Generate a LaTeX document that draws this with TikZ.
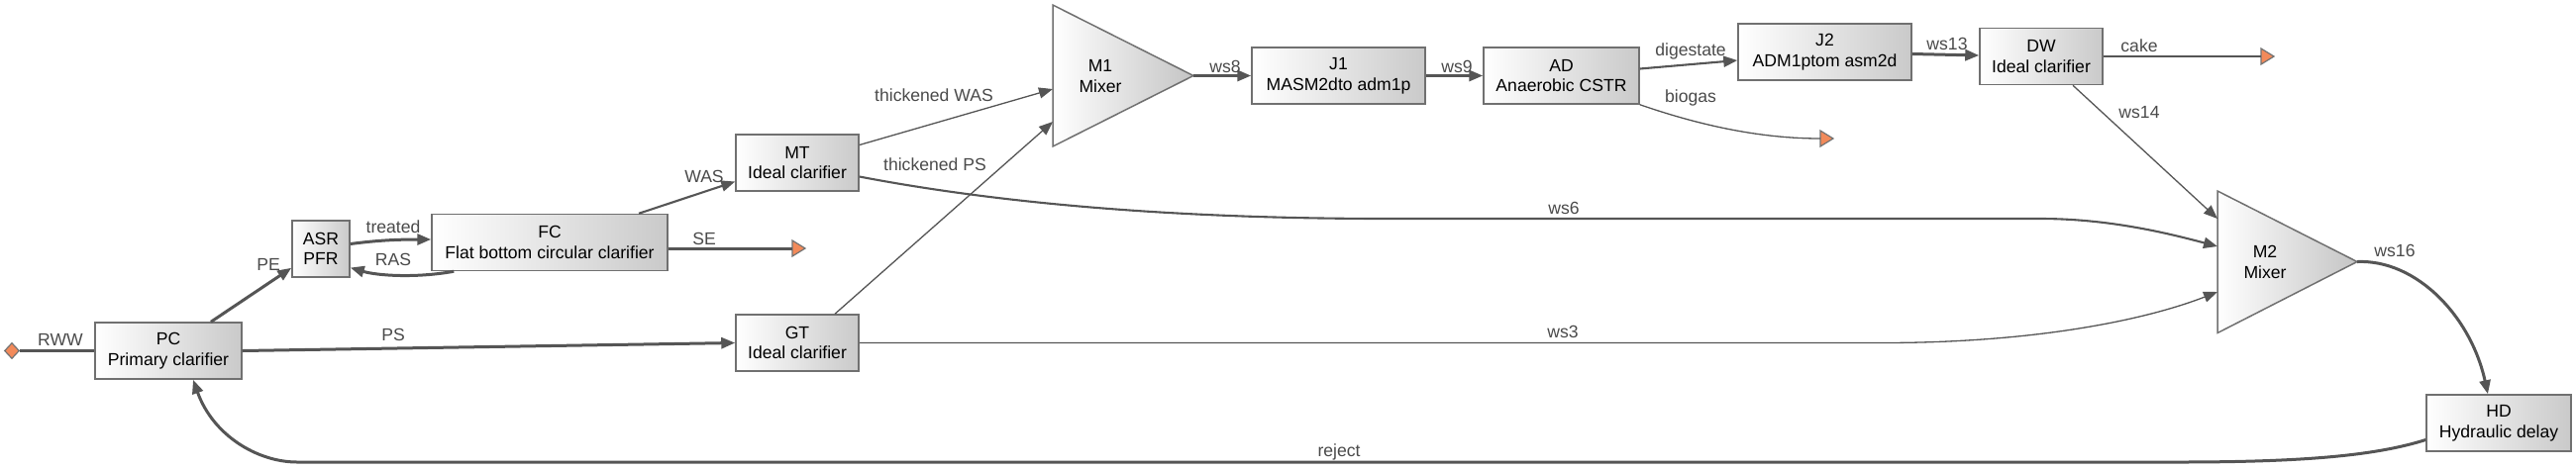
\documentclass[tikz,border=0pt]{standalone}
\usepackage{fontspec}
\setmainfont{Liberation Sans}
\usetikzlibrary{arrows.meta,calc,shapes.geometric}
\definecolor{edgec}{HTML}{555555}
\definecolor{boxline}{HTML}{707070}
\definecolor{termfill}{HTML}{F28A5A}
\definecolor{lblc}{HTML}{4A4A4A}
\begin{document}
\begin{tikzpicture}[x=0.5pt,y=-0.5pt,
  unit/.style={draw=boxline, line width=0.75pt, left color=white, right color=black!21,
    inner sep=0pt, align=center, font=\fontsize{8.8}{10.3}\selectfont, text=black,
    minimum height=28.5pt},
  mixtext/.style={inner sep=0pt, align=center, font=\fontsize{8.8}{10.3}\selectfont, text=black},
  mixst/.style={draw=boxline, line width=0.75pt, left color=white, right color=black!23},
  conn/.style={draw=edgec, -{Triangle[length=7pt,width=5.5pt]}},
  plain/.style={draw=edgec},
  thk/.style={line width=1.5pt},
  mid/.style={line width=1.05pt},
  thn/.style={line width=0.65pt},
  lbl/.style={text=lblc, font=\fontsize{8.8}{10}\selectfont, inner sep=0pt},
  termst/.style={fill=termfill, draw=black!55, line width=0.6pt},
]
\useasboundingbox (0,0) rectangle (2601,473);

% unit boxes
\node[unit, minimum width=74pt] (PC) at (170,354.5) {PC\\Primary clarifier};
\node[unit, minimum width=29pt] (ASR) at (324,251.5) {ASR\\PFR};
\node[unit, minimum width=119pt] (FC) at (555,245) {FC\\Flat bottom circular clarifier};
\node[unit, minimum width=62pt] (MT) at (805,164.5) {MT\\Ideal clarifier};
\node[unit, minimum width=62pt] (GT) at (805,346.5) {GT\\Ideal clarifier};
\node[unit, minimum width=87.5pt] (J1) at (1351.5,76.5) {J1\\MASM2dto adm1p};
\node[unit, minimum width=78.5pt] (AD) at (1576.5,76.5) {AD\\Anaerobic CSTR};
\node[unit, minimum width=87.5pt] (J2) at (1842.5,52.5) {J2\\ADM1ptom asm2d};
\node[unit, minimum width=62pt] (DW) at (2061,57) {DW\\Ideal clarifier};
\node[unit, minimum width=73pt] (HD) at (2523,427.5) {HD\\Hydraulic delay};

% mixers
\coordinate (M1top) at (1063,5);
\coordinate (M1out) at (1205,76.5);
\coordinate (M1bot) at (1063,148);
\path[mixst] (M1top) -- (M1out) -- (M1bot) -- cycle;
\node[mixtext] (M1) at (1111,77) {M1\\Mixer};
\coordinate (M1inA) at (1063,90);
\coordinate (M1inB) at (1063,123);

\coordinate (M2top) at (2239,193);
\coordinate (M2out) at (2380,264.5);
\coordinate (M2bot) at (2239,336.5);
\path[mixst] (M2top) -- (M2out) -- (M2bot) -- cycle;
\node[mixtext] (M2) at (2287,265) {M2\\Mixer};
\coordinate (M2inA) at (2239,221);
\coordinate (M2inB) at (2239,249);
\coordinate (M2inC) at (2239,295);

% terminals
\node[termst, diamond, minimum width=7.5pt, minimum height=8pt, inner sep=0pt] (RWW) at (12,354.5) {};
\coordinate (SEend) at (800,251);
\path[termst] (SEend) -- ++(0,-8) -- ++(13,8) -- ++(-13,8) -- cycle;
\coordinate (BIOend) at (1838,140);
\path[termst] (BIOend) -- ++(0,-8) -- ++(13,8) -- ++(-13,8) -- cycle;
\coordinate (CAKEend) at (2283,57);
\path[termst] (CAKEend) -- ++(0,-8) -- ++(13,8) -- ++(-13,8) -- cycle;

% connectors
\draw[plain,thk] (RWW.east) -- (PC.west) node[lbl] at (61,343) {RWW};
\draw[conn,thk] ($(PC.north)+(43,0)$) -- ($(ASR.south west)+(0,-10)$) node[lbl] at (271,267) {PE};
\draw[conn,thk] ($(ASR.east)+(0,-5)$) .. controls +(30,-4) and +(-30,0) .. ($(FC.west)+(0,-3)$) node[lbl] at (397,229) {treated};
\draw[conn,thk] ($(FC.south west)+(23,0)$) .. controls +(-39,7) and +(27,8) .. ($(ASR.east)+(0,19)$) node[lbl] at (397,262) {RAS};
\draw[plain,thk] ($(FC.east)+(0,6)$) -- (SEend) node[lbl] at (711,241) {SE};
\draw[conn,mid] ($(FC.north)+(90,0)$) -- ($(MT.west)+(0,19)$) node[lbl] at (711,178) {WAS};
\draw[conn,thk] (PC.east) -- (GT.west) node[lbl] at (397,338) {PS};
\draw[conn,thn] ($(MT.east)+(0,-18)$) -- (M1inA) node[lbl] at (943,96) {thickened WAS};
\draw[conn,thn] ($(GT.north)+(38,0)$) -- (M1inB) node[lbl] at (944,166) {thickened PS};
\draw[conn,mid] ($(MT.east)+(0,14)$) .. controls (980,200) and (1150,221) .. (1400,221) -- (2060,221) .. controls (2130,221) and (2190,236) .. (M2inB) node[lbl] at (1579,210) {ws6};
\draw[conn,thn] (GT.east) -- (1900,346.5) .. controls (2060,346.5) and (2170,322) .. (M2inC) node[lbl] at (1578,335) {ws3};
\draw[conn,thk] (M1out) -- (J1.west) node[lbl] at (1237,67) {ws8};
\draw[conn,thk] (J1.east) -- (AD.west) node[lbl] at (1471,67) {ws9};
\draw[conn,mid] ($(AD.east)+(0,-7)$) -- ($(J2.west)+(0,8.5)$) node[lbl] at (1707,52) {digestate};
\draw[plain,thn] (AD.south east) .. controls (1720,128) and (1780,140) .. (BIOend) node[lbl] at (1707,99) {biogas};
\draw[conn,thk] ($(J2.east)+(0,2)$) -- ($(DW.west)+(0,-1)$) node[lbl] at (1966,44) {ws13};
\draw[plain,mid] (DW.east) -- (CAKEend) node[lbl] at (2160,46) {cake};
\draw[conn,thn] ($(DW.south)+(32,0)$) -- (M2inA) node[lbl] at (2160,114) {ws14};
\draw[conn,thk] (M2out) .. controls (2440,262) and (2495,320) .. ($(HD.north)+(-11,0)$) node[lbl] at (2418,253) {ws16};
\draw[conn,thk] ($(HD.west)+(0,17)$) .. controls (2400,460) and (2330,467) .. (2200,467) -- (300,467) .. controls (260,467) and (215,440) .. ($(PC.south)+(25,0)$) node[lbl] at (1352,457) {reject};
\end{tikzpicture}
\end{document}
